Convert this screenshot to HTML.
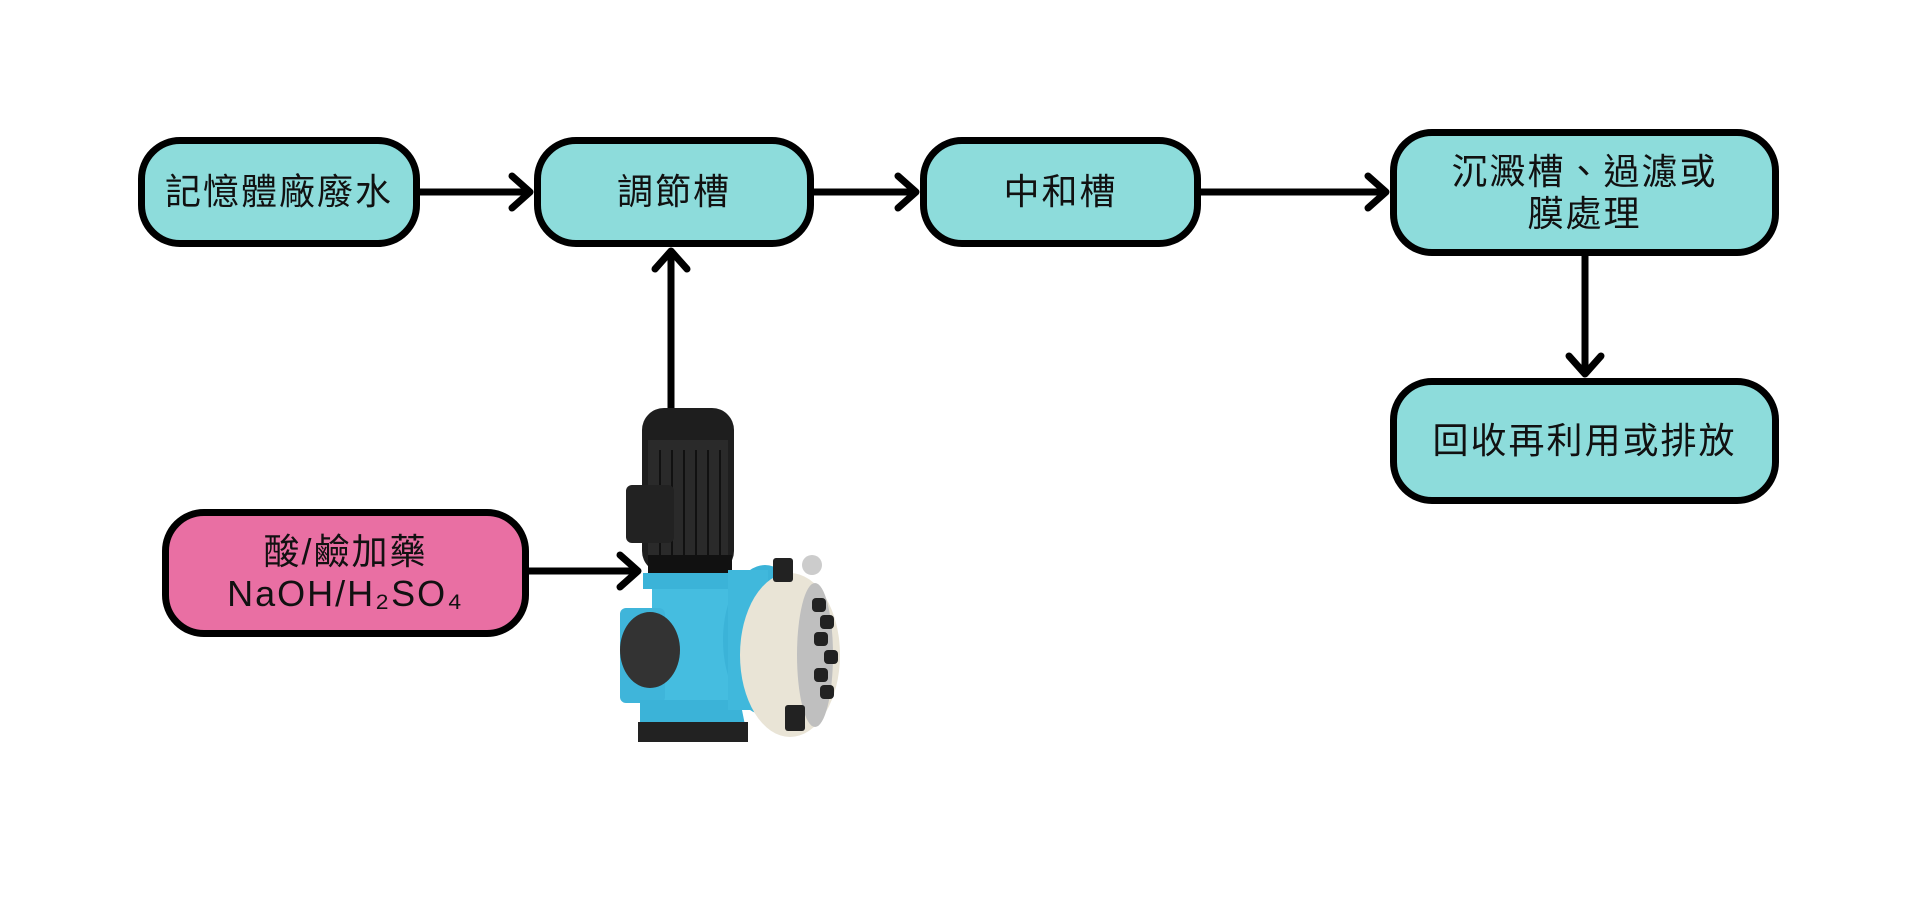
<!DOCTYPE html>
<html><head><meta charset="utf-8">
<style>
html,body{margin:0;padding:0;background:#fff;width:1920px;height:900px;overflow:hidden}
.b{position:absolute;box-sizing:border-box;border:7px solid #000;border-radius:42px;background:#8ddcdb;display:flex;align-items:center;justify-content:center;text-align:center;font-family:"Liberation Sans","Noto Sans CJK TC",sans-serif;font-size:36px;line-height:42px;color:#111;letter-spacing:2px}
svg{position:absolute;left:0;top:0}
</style></head><body>
<svg width="1920" height="900" viewBox="0 0 1920 900">
<g stroke="#000" stroke-width="7" fill="none" stroke-linecap="round" stroke-linejoin="round">
<line x1="420" y1="192" x2="528" y2="192"/><polyline points="512,176 530,192 512,208"/>
<line x1="814" y1="192" x2="914" y2="192"/><polyline points="898,176 916,192 898,208"/>
<line x1="1201" y1="192" x2="1384" y2="192"/><polyline points="1368,176 1386,192 1368,208"/>
<line x1="671" y1="408" x2="671" y2="253"/><polyline points="655,269 671,251 687,269"/>
<line x1="1585" y1="256" x2="1585" y2="372"/><polyline points="1569,356 1585,374 1601,356"/>
<line x1="529" y1="571" x2="636" y2="571"/><polyline points="620,555 638,571 620,587"/>
</g>
<g>
<rect x="642" y="408" width="92" height="165" rx="22" fill="#1e1e1e"/>
<rect x="648" y="440" width="80" height="120" fill="#2a2a2a"/>
<g stroke="#111" stroke-width="2"><line x1="660" y1="450" x2="660" y2="555"/><line x1="672" y1="450" x2="672" y2="555"/><line x1="684" y1="450" x2="684" y2="555"/><line x1="696" y1="450" x2="696" y2="555"/><line x1="708" y1="450" x2="708" y2="555"/><line x1="720" y1="450" x2="720" y2="555"/></g>
<rect x="626" y="485" width="48" height="58" rx="6" fill="#222"/>
<rect x="648" y="555" width="84" height="18" fill="#111"/>
<rect x="643" y="573" width="94" height="16" fill="#3bb3d8"/>
<rect x="652" y="589" width="76" height="120" fill="#45bde0"/>
<rect x="620" y="608" width="45" height="95" rx="6" fill="#3fb5da"/>
<ellipse cx="650" cy="650" rx="30" ry="38" fill="#333"/>
<path d="M640 700 L740 700 L745 725 L640 725 Z" fill="#3bb3d8"/>
<rect x="638" y="722" width="110" height="20" fill="#222"/>
<ellipse cx="765" cy="640" rx="42" ry="75" fill="#3bb3d8"/>
<rect x="728" y="570" width="40" height="140" fill="#40b8dc"/>
<ellipse cx="790" cy="655" rx="50" ry="82" fill="#e9e4d6"/>
<ellipse cx="815" cy="655" rx="18" ry="72" fill="#bfbfbf"/>
<g fill="#222">
<rect x="773" y="558" width="20" height="24" rx="3"/>
<circle cx="812" cy="565" r="10" fill="#ccc"/>
<rect x="812" y="598" width="14" height="14" rx="4"/><rect x="820" y="615" width="14" height="14" rx="4"/>
<rect x="814" y="632" width="14" height="14" rx="4"/><rect x="824" y="650" width="14" height="14" rx="4"/>
<rect x="814" y="668" width="14" height="14" rx="4"/><rect x="820" y="685" width="14" height="14" rx="4"/>
<rect x="785" y="705" width="20" height="26" rx="3"/>
</g>
</g>
</svg>
<div class="b" style="left:138px;top:137px;width:282px;height:110px">記憶體廠廢水</div>
<div class="b" style="left:534px;top:137px;width:280px;height:110px">調節槽</div>
<div class="b" style="left:920px;top:137px;width:281px;height:110px">中和槽</div>
<div class="b" style="left:1390px;top:129px;width:389px;height:127px">沉澱槽、過濾或<br>膜處理</div>
<div class="b" style="left:1390px;top:378px;width:389px;height:126px">回收再利用或排放</div>
<div class="b" style="left:162px;top:509px;width:367px;height:128px;background:#e96fa3">酸/鹼加藥<br>NaOH/H₂SO₄</div>
</body></html>
